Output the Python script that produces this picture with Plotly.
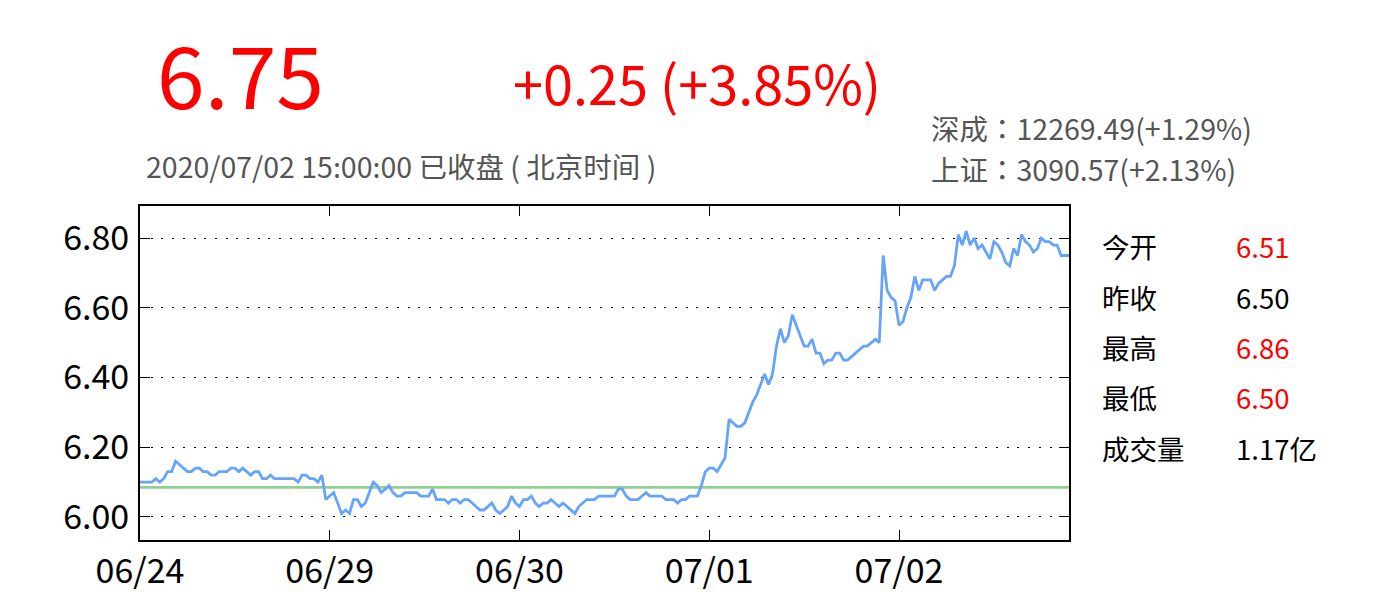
import plotly.graph_objects as go

# ---------------- data ----------------
day_labels = ["06/24", "06/29", "06/30", "07/01", "07/02"]
day_start_index = [0, 48, 96, 144, 192]

prices_0624 = [6.10, 6.10, 6.10, 6.10, 6.11, 6.10, 6.11, 6.13, 6.13, 6.16, 6.15, 6.14,
               6.13, 6.13, 6.14, 6.14, 6.13, 6.13, 6.12, 6.12, 6.13, 6.13, 6.13, 6.14,
               6.14, 6.13, 6.14, 6.13, 6.12, 6.13, 6.13, 6.11, 6.11, 6.12, 6.11, 6.11,
               6.11, 6.11, 6.11, 6.11, 6.10, 6.12, 6.12, 6.11, 6.11, 6.10, 6.12, 6.05]
prices_0629 = [6.06, 6.07, 6.04, 6.01, 6.02, 6.01, 6.05, 6.05, 6.03, 6.04, 6.07, 6.10,
               6.09, 6.07, 6.08, 6.09, 6.07, 6.06, 6.06, 6.07, 6.07, 6.07, 6.07, 6.06,
               6.06, 6.06, 6.08, 6.05, 6.05, 6.05, 6.04, 6.05, 6.05, 6.04, 6.05, 6.05,
               6.04, 6.03, 6.02, 6.02, 6.03, 6.04, 6.02, 6.01, 6.02, 6.03, 6.06, 6.04]
prices_0630 = [6.03, 6.05, 6.05, 6.06, 6.04, 6.03, 6.04, 6.04, 6.05, 6.04, 6.03, 6.04,
               6.03, 6.02, 6.01, 6.03, 6.04, 6.05, 6.05, 6.05, 6.06, 6.06, 6.06, 6.06,
               6.06, 6.08, 6.08, 6.06, 6.05, 6.05, 6.05, 6.06, 6.07, 6.06, 6.06, 6.06,
               6.06, 6.05, 6.05, 6.05, 6.04, 6.05, 6.05, 6.06, 6.06, 6.06, 6.09, 6.13]
prices_0701 = [6.14, 6.14, 6.13, 6.15, 6.17, 6.28, 6.27, 6.26, 6.26, 6.27, 6.30, 6.33,
               6.35, 6.38, 6.41, 6.38, 6.41, 6.49, 6.54, 6.50, 6.52, 6.58, 6.55, 6.52,
               6.49, 6.49, 6.51, 6.47, 6.47, 6.44, 6.45, 6.45, 6.47, 6.47, 6.45, 6.45,
               6.46, 6.47, 6.48, 6.49, 6.49, 6.50, 6.51, 6.50, 6.75, 6.65, 6.63, 6.62]
prices_0702 = [6.55, 6.56, 6.60, 6.63, 6.69, 6.65, 6.68, 6.68, 6.68, 6.65, 6.67, 6.68,
               6.69, 6.69, 6.72, 6.81, 6.78, 6.82, 6.78, 6.80, 6.77, 6.78, 6.76, 6.74,
               6.79, 6.78, 6.76, 6.73, 6.72, 6.77, 6.75, 6.81, 6.79, 6.78, 6.76, 6.77,
               6.80, 6.79, 6.79, 6.78, 6.78, 6.75, 6.75, 6.75]

reference_level = 6.085

y_ticks = [6.00, 6.20, 6.40, 6.60, 6.80]

last_price = "6.75"
change_text = "+0.25 (+3.85%)"
time_text = "2020/07/02 15:00:00 已收盘 ( 北京时间 )"
index_names = ["深成", "上证"]
index_values = ["12269.49(+1.29%)", "3090.57(+2.13%)"]
stat_labels = ["今开", "昨收", "最高", "最低", "成交量"]
stat_values = ["6.51", "6.50", "6.86", "6.50", "1.17亿"]
stat_colors = ["#ff0000", "#000000", "#ff0000", "#ff0000", "#000000"]

# ---------------- build ----------------
prices = prices_0624 + prices_0629 + prices_0630 + prices_0701 + prices_0702
idx = list(range(len(prices)))

W, H = 1400, 600
OFF = 8  # page offset of the figure inside the browser window
PL, PR, PT, PB = 140, 1069, 206, 540  # plot area in screen pixels


def px(x):
    return (x - PL) / (PR - PL)


def py(y):
    return (PB - y) / (PB - PT)


fig = go.Figure()
fig.add_trace(go.Scatter(x=[idx[0], idx[-1]], y=[reference_level, reference_level],
                         mode="lines", line=dict(color="#8fd18f", width=2.6),
                         hoverinfo="skip", showlegend=False))
fig.add_trace(go.Scatter(x=idx, y=prices, mode="lines",
                         line=dict(color="#66a3fa", width=2.8),
                         showlegend=False))

CJK = "Noto Sans CJK SC, Noto Sans, sans-serif"
annotations = []


def add_text(text, x, y, size, color, family=CJK, anchor="left"):
    annotations.append(dict(text=text, x=px(x), y=py(y), xref="paper", yref="paper",
                            xanchor=anchor, yanchor="middle", showarrow=False,
                            font=dict(size=size, color=color, family=family)))


colon = "<span style=\"font-family:'Noto Sans CJK TC'\">：</span>"

add_text(last_price, 155, 71, 86, "#ff0000")
add_text(change_text, 511, 81, 54, "#ff0000")
add_text(time_text, 144, 166, 28.5, "#555555")
add_text(index_names[0] + colon + index_values[0], 929, 127, 28.5, "#555555")
add_text(index_names[1] + colon + index_values[1], 929, 168, 28.5, "#555555")
row_y = [246, 297, 347, 397, 448]
for lab, val, col, yy in zip(stat_labels, stat_values, stat_colors, row_y):
    add_text(lab, 1100, yy, 27.5, "#000000")
    add_text(val, 1234, yy, 27.5, col)

fig.update_layout(
    width=W, height=H,
    margin=dict(l=PL - OFF, r=W - (PR - OFF), t=PT - OFF, b=H - (PB - OFF), pad=0),
    paper_bgcolor="white", plot_bgcolor="white",
    annotations=annotations,
    font=dict(family=CJK, color="#000000"),
)
fig.update_xaxes(
    range=[idx[0], idx[-1]],
    tickvals=day_start_index, ticktext=day_labels,
    ticks="inside", ticklen=10, tickwidth=1.2, tickcolor="black",
    showline=True, linewidth=2, linecolor="black", mirror="allticks",
    showgrid=False, zeroline=False,
    tickfont=dict(size=34, color="black", family=CJK),
)
fig.update_yaxes(
    range=[5.934, 6.892],
    tickvals=y_ticks, tickformat=".2f",
    ticks="inside", ticklen=10, tickwidth=1.2, tickcolor="black",
    showline=True, linewidth=2, linecolor="black", mirror="allticks",
    showgrid=True, gridcolor="black", gridwidth=1, griddash="2px,8.7px",
    zeroline=False, ticklabelstandoff=2,
    tickfont=dict(size=34, color="black", family=CJK),
)

fig.write_html("out.html")
